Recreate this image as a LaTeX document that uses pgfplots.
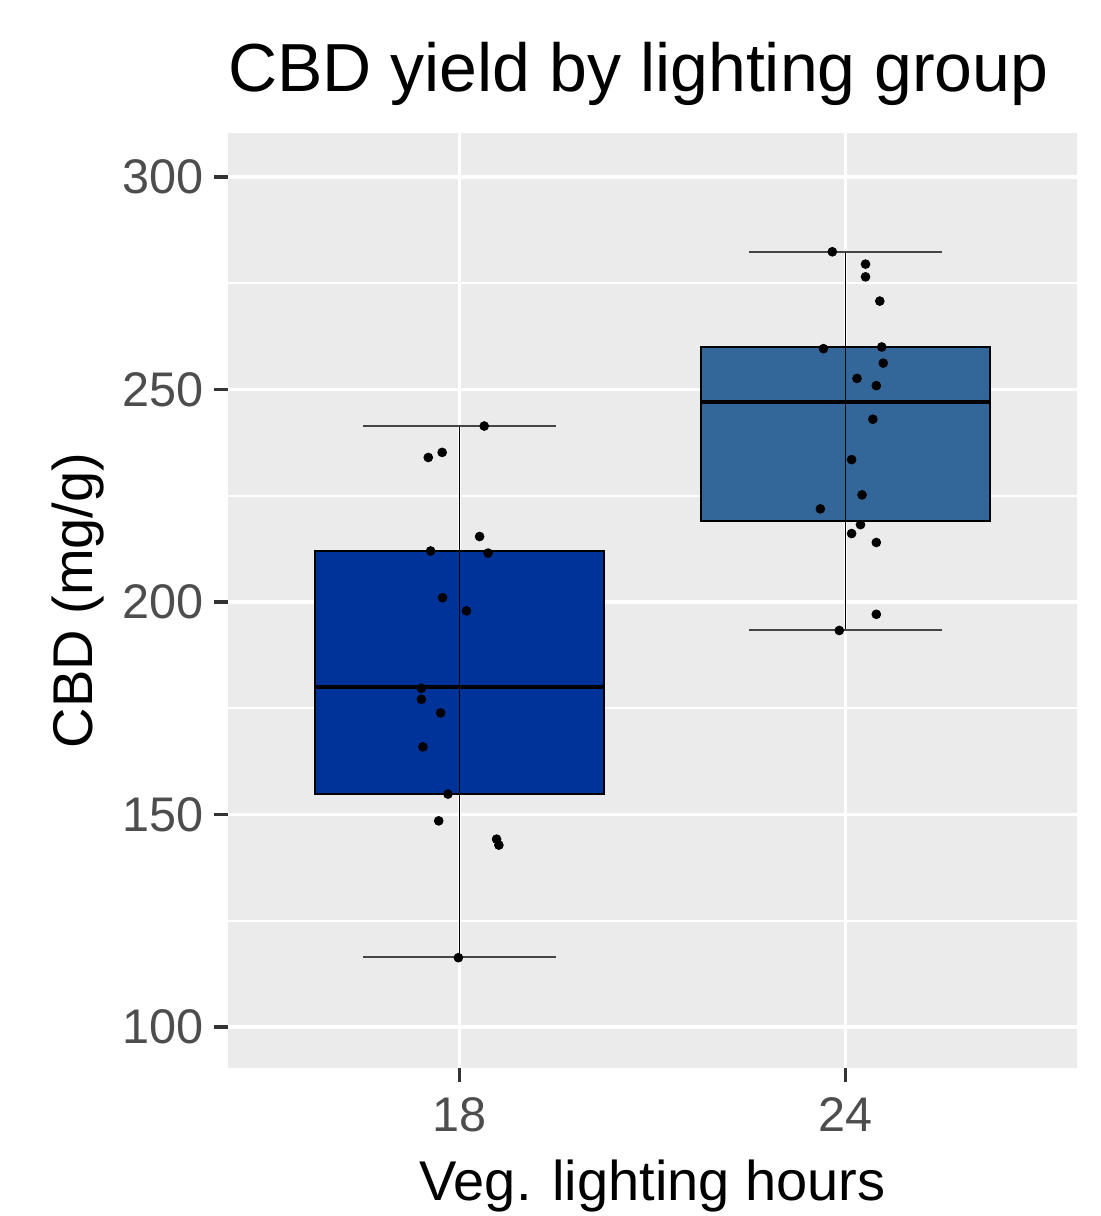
\documentclass[border=0pt]{standalone}
\usepackage{fontspec}
\setmainfont{Liberation Sans}
\usepackage{pgfplots}
\pgfplotsset{compat=1.18}
\definecolor{panelbg}{HTML}{EBEBEB}
\definecolor{boxA}{HTML}{003399}
\definecolor{boxB}{HTML}{336699}
\definecolor{tickgray}{HTML}{4D4D4D}
\definecolor{tickdark}{HTML}{333333}
\definecolor{capgray}{HTML}{454545}
\begin{document}
\begin{tikzpicture}
\useasboundingbox (-114pt,-74pt) rectangle (436.5pt,534pt);
\begin{axis}[
  name=ax,
  at={(0,0)}, anchor=south west,
  scale only axis,
  width=424.5pt, height=467.5pt,
  xmin=0.4, xmax=2.6,
  ymin=90.35, ymax=310.35,
  xtick={1,2}, xticklabels={18,24},
  ytick={100,150,200,250,300},
  minor ytick={125,175,225,275},
  grid=both,
  major grid style={white, line width=1.6pt},
  minor grid style={white, line width=0.8pt},
  axis background/.style={fill=panelbg},
  axis line style={draw=none},
  tick align=outside,
  xtick pos=left, ytick pos=left,
  major tick length=7pt,
  minor tick length=0pt,
  major tick style={tickdark, line width=1.6pt},
  minor tick style={draw=none},
  /pgf/number format/assume math mode=true,
  tick label style={font=\fontsize{24.3}{29}\selectfont, text=tickgray},
  yticklabel style={anchor=east, xshift=-1.5pt},
  xticklabel style={anchor=north, yshift=-4pt},
  clip=false,
]
% group 18
\addplot[fill=boxA, draw=black, line width=0.9pt] coordinates {(0.625,154.8) (1.375,154.8) (1.375,212.0) (0.625,212.0)} -- cycle;
\addplot[black, line width=2pt] coordinates {(0.625,180.0) (1.375,180.0)};
\addplot[black, line width=0.85pt] coordinates {(1,116.4) (1,241.4)};
\addplot[capgray, line width=1pt] coordinates {(0.75,241.4) (1.25,241.4)};
\addplot[capgray, line width=1pt] coordinates {(0.75,116.4) (1.25,116.4)};
% group 24
\addplot[fill=boxB, draw=black, line width=0.9pt] coordinates {(1.625,219.1) (2.375,219.1) (2.375,260.0) (1.625,260.0)} -- cycle;
\addplot[black, line width=2pt] coordinates {(1.625,247.0) (2.375,247.0)};
\addplot[black, line width=0.85pt] coordinates {(2,193.3) (2,282.4)};
\addplot[capgray, line width=1pt] coordinates {(1.75,282.4) (2.25,282.4)};
\addplot[capgray, line width=1pt] coordinates {(1.75,193.3) (2.25,193.3)};
% points
\addplot[only marks, mark=*, mark size=2.2pt, black] coordinates {
(1.064,241.4) (0.955,235.2) (0.919,234.0) (1.052,215.4) (0.925,212.0) (1.074,211.5)
(0.956,201.0) (1.018,197.9) (0.901,179.7) (0.901,177.1) (0.951,173.9) (0.905,165.9)
(0.970,154.8) (0.946,148.5) (1.096,144.2) (1.102,142.8) (0.997,116.3)
};
\addplot[only marks, mark=*, mark size=2.2pt, black] coordinates {
(1.966,282.4) (2.052,279.5) (2.052,276.5) (2.089,270.8) (1.943,259.6) (2.094,260.0)
(2.098,256.2) (2.030,252.6) (2.080,250.9) (2.071,243.0) (2.016,233.5) (2.043,225.2)
(1.935,221.9) (2.039,218.2) (2.016,216.1) (2.080,214.0) (2.080,197.1) (1.984,193.3)
};
\end{axis}
\node[anchor=base west, font=\fontsize{34}{40}\selectfont, inner sep=0pt] at ([yshift=20.5pt]ax.north west) {CBD yield by lighting group};
\node[anchor=base, font=\fontsize{28}{34}\selectfont, inner sep=0pt] at ([yshift=-66pt]ax.south) {Veg. lighting hours};
\node[anchor=base, rotate=90, font=\fontsize{28}{34}\selectfont, inner sep=0pt] at ([xshift=-67.5pt]ax.west) {CBD (mg/g)};
\end{tikzpicture}
\end{document}
